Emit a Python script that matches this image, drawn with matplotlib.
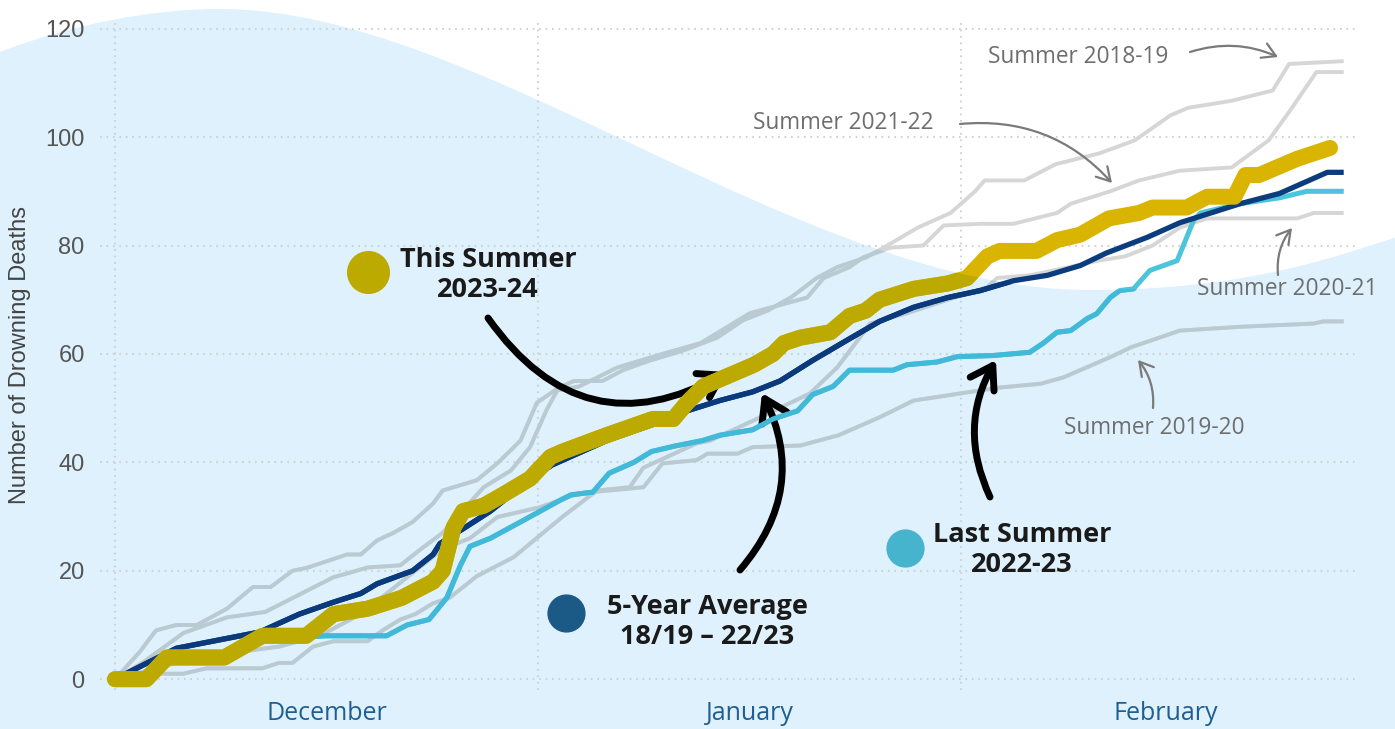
import numpy as np
import matplotlib
matplotlib.use("Agg")
import matplotlib.pyplot as plt
import matplotlib.colors as mcolors
from matplotlib.path import Path
from matplotlib.patches import PathPatch

# days since 1 December, values = cumulative drowning deaths
days_this = [0, 2.3, 3.8, 8, 10.8, 14, 16, 18.5, 21, 23.3, 24, 24.8, 25.5, 27, 28.4, 30.4, 31.9, 32.8,
             36, 39.4, 40.9, 41.9, 43.1, 46.8, 48.2, 49, 50.2, 52.4, 53.8, 55, 56, 58.5, 61, 62.4, 63.9,
             64.8, 67.5, 69, 70.7, 72.8, 75, 76, 78.5, 80, 82, 82.8, 83.8, 86.6, 87.8, 89]
this_summer = [0, 0, 4, 4, 8, 8, 12, 13, 15, 18, 20, 28, 31, 32, 34, 37, 41, 42,
               45, 48, 48, 51, 54, 58, 60, 62, 63, 64, 67, 68, 70, 72, 73, 74, 78,
               79, 79, 81, 82, 85, 86, 87, 87, 89, 89, 93, 93, 96, 97, 98]

days_avg = [0, 4.5, 10.6, 13.5, 16, 18, 19.2, 21.8, 23.3, 23.8, 27.5, 30, 32, 36, 39.4, 41.9, 44.3, 46.7,
            48.7, 51.1, 53.6, 56, 58.5, 61, 63.4, 65.8, 68.3, 70.7, 72.6, 75.6, 78, 82.4, 85.3, 88.8, 90]
five_year_avg = [0, 5.7, 8.7, 12, 14.2, 15.8, 17.6, 20, 23, 25, 31, 36, 39.5, 44, 47, 49.5, 51.4, 53,
                 55, 58.8, 62.5, 66, 68.6, 70.4, 71.7, 73.5, 74.5, 76.3, 78.6, 81.5, 84.2, 87.7, 89.6, 93.5, 93.5]

days_last = [0, 2.5, 4, 8, 11, 15.5, 19.9, 21.4, 23, 24.3, 25.3, 26, 27.5, 29.7, 32.6, 33.4, 35, 36.2, 38,
             39.3, 41, 43, 44.3, 46.7, 48.2, 50, 51.1, 52.6, 53.8, 57, 58, 60.2, 61.7, 64.3, 67, 68, 69,
             70, 71.2, 71.9, 72.9, 73.6, 74.6, 75.8, 77.8, 79, 79.5, 82.4, 85.3, 87.3, 90]
last_summer = [0, 1, 4, 4, 7.5, 8, 8, 10, 11, 15, 21, 24.5, 26, 29, 33, 34, 34.5, 38, 40,
               42, 43, 44, 45, 46, 48, 49.5, 52.5, 54, 57, 57, 58, 58.5, 59.5, 59.7, 60.3, 62, 64,
               64.3, 66.5, 67.4, 70.4, 71.7, 72, 75.4, 77.2, 84.6, 86, 87.7, 88.8, 90, 90]

days_1819 = [0, 1.8, 3, 4.5, 6, 8.2, 10.1, 11.4, 13, 14, 17, 18, 19.2, 20.4, 21.8, 23.3, 24, 26.5, 28,
             29.7, 30.9, 32.4, 33.6, 35.7, 37.2, 39.2, 41.6, 44.1, 46, 47.8, 49.5, 51.4, 52.9, 55, 56.3,
             58.8, 61.2, 63, 63.7, 66.6, 68.9, 72.1, 74.7, 77.3, 78.6, 81.8, 84.8, 86, 90]
summer_1819 = [0, 5, 9, 10, 10, 13, 17, 17, 20, 20.5, 23, 23, 25.6, 27, 29, 32.4, 34.8, 36.7, 39.8,
               44, 51, 53.6, 55, 55, 57, 58.8, 60.6, 63, 66.2, 68, 70.4, 74, 76, 77.8, 79.6,
               83.3, 86, 90, 92, 92, 95, 97, 99.4, 104, 105.4, 106.7, 108.6, 113.5, 114]

days_2122 = [0, 2, 5, 8.2, 11, 16, 17, 18.5, 20.9, 22.3, 24, 27, 29, 30.4, 31.6, 32.4, 34, 36.8, 40.1,
             42.9, 46.5, 50.7, 51.9, 53.8, 54.8, 56.8, 59.2, 60.7, 63.4, 65.8, 69, 70, 72.9, 75, 78,
             81.8, 84.5, 86.1, 88, 90]
summer_2122 = [0, 3, 8.5, 11.4, 12.4, 18.8, 19.5, 20.6, 21, 23.8, 27, 35.4, 38.5, 42.8, 49.6, 53.3, 54, 57.5, 60,
               62, 67.5, 70.4, 74, 76, 77.8, 79.6, 80, 83.7, 84, 84, 86, 87.7, 90, 92, 93.8,
               94.4, 99.4, 105, 112, 112]

days_2021 = [0, 2.6, 5, 6.7, 10.8, 12, 13, 14.5, 16, 18.5, 19.6, 20.9, 22, 23.3, 24.5, 26.5, 29.2, 32.8,
             35.3, 37.7, 38.7, 42.6, 43.6, 47, 50.9, 52.9, 54.4, 55.3, 58, 61, 63.9, 64.6, 67, 69.5, 72,
             74, 76, 78, 80, 86.6, 87.8, 90]
summer_2021 = [0, 1, 1, 2, 2, 3, 3, 6, 7, 7, 9, 11, 12, 14, 15, 19, 22.5, 30,
               34.8, 35.4, 39, 43.5, 44, 48, 52.7, 57.5, 62.5, 65.6, 67.5, 70, 72.3, 74, 74.5, 75.8, 77.2,
               78, 80, 83.3, 85, 85, 86, 86]

days_1920 = [0, 3, 6, 9, 12, 15, 18, 21, 24, 26, 28, 31.1, 34, 38.7, 40.1, 42.6, 43.4, 45.6, 46.7, 50.2,
             53, 56, 58.5, 61.9, 64.8, 67.8, 69.5, 72.9, 74.4, 78, 82.4, 87.8, 88.5, 90]
summer_1920 = [0, 2, 4, 5, 6, 8, 12, 18, 24, 26, 29.9, 31.7, 34.3, 35.4, 39.8, 40.4, 41.6, 41.6, 42.8, 43.1,
               45, 48.3, 51.4, 52.7, 53.8, 54.5, 55.7, 59.4, 61.2, 64.3, 65, 65.6, 66, 66]

month_names = ["December", "January", "February"]
month_starts = [0, 31, 62]
month_mids = [15.5, 46.5, 77]
y_ticks = [0, 20, 40, 60, 80, 100, 120]

W, H = 1395, 729
BLUE = "#def1fc"
GOLD = "#d9b400"
NAVY = "#0b3c7d"
CYAN = "#4cc4dc"
GREY = "#d6d6d6"


def P(x, y):
    # reference pixel -> figure fraction
    return (x / W, 1 - y / H)


def multiply(c):
    a = np.array(mcolors.to_rgb(c))
    b = np.array(mcolors.to_rgb(BLUE))
    return tuple(a * b)


fig = plt.figure(figsize=(W / 100, H / 100), dpi=100)

# light blue wave behind the chart
wave_px = [(-5, 55), (0, 52), (70, 25), (150, 9), (220, 9), (480, 9), (800, 290), (1090, 290),
           (1250, 290), (1340, 255), (1400, 236), (1400, 735), (-5, 735), (-5, 55)]
codes = [Path.MOVETO, Path.LINETO] + [Path.CURVE4] * 9 + [Path.LINETO, Path.LINETO, Path.CLOSEPOLY]
wave_path = Path([P(x, y) for x, y in wave_px], codes)
fig.add_artist(PathPatch(wave_path, transform=fig.transFigure, facecolor=BLUE,
                         edgecolor="none", zorder=0))
wave_clip = PathPatch(wave_path, transform=fig.transFigure, facecolor="none", edgecolor="none")

ax = fig.add_axes([100 / W, 1 - 690 / H, 1256 / W, 670 / H])
ax.set_zorder(1)
ax.patch.set_visible(False)
ax.set_xlim(-1.1, 90.9)
ax.set_ylim(-2.0, 121.6)


def draw(x, y, color, lw, z, cap="butt"):
    # the blue wave tints whatever lies under it, so draw a tinted copy clipped to the wave
    ax.plot(x, y, color=color, lw=lw, zorder=z, solid_capstyle=cap)
    ln, = ax.plot(x, y, color=multiply(color), lw=lw, zorder=z + 0.1, solid_capstyle=cap)
    ln.set_clip_path(wave_clip)


for dx, dy in [(days_1819, summer_1819), (days_2122, summer_2122),
               (days_2021, summer_2021), (days_1920, summer_1920)]:
    draw(dx, dy, GREY, 2.8, 2)
draw(days_last, last_summer, CYAN, 3.6, 3)
draw(days_avg, five_year_avg, NAVY, 3.8, 4)
draw(days_this, this_summer, GOLD, 11.5, 5, cap="round")

# axes styling
for s in ax.spines.values():
    s.set_visible(False)
ax.set_yticks(y_ticks)
ax.set_yticklabels([str(v) for v in y_ticks], family=["Liberation Sans", "DejaVu Sans"],
                   fontsize=17, color="#555555")
ax.set_xticks(month_mids)
ax.set_xticklabels(month_names, family=["Open Sans", "DejaVu Sans"], fontsize=18, color="#1f5e92")
ax.set_xticks(month_starts, minor=True)
ax.tick_params(axis="both", which="both", length=0)
ax.tick_params(axis="y", pad=11)
ax.tick_params(axis="x", pad=8)
ax.grid(axis="y", which="major", color="#cdd2d6", lw=1.5, linestyle=(0, (0.8, 2.3)), zorder=1)
ax.grid(axis="x", which="minor", color="#cdd2d6", lw=1.5, linestyle=(0, (0.8, 2.3)), zorder=1)
ax.set_axisbelow(True)
ax.set_ylabel("Number of Drowning Deaths", family=["Liberation Sans", "DejaVu Sans"],
              fontsize=17, color="#444444")
ax.yaxis.set_label_coords(-0.055, 0.5)

# legend-like dots with bold labels
bold = dict(family=["Open Sans", "DejaVu Sans"], fontweight="bold", fontsize=19.5,
            color="#1a1a1a", ha="center", va="center", linespacing=1.2)
dots = [((368, 272), multiply(GOLD), 30, "This Summer\n2023-24", (488, 275)),
        ((566, 613), "#1b5a86", 26.5, "5-Year Average\n18/19 \u2013 22/23", (707, 622)),
        ((905, 548), "#45b4cc", 26.5, "Last Summer\n2022-23", (1022, 550))]
for (px, py), col, ms, label, (tx, ty) in dots:
    fx, fy = P(px, py)
    ax.plot([fx], [fy], "o", color=col, ms=ms, transform=fig.transFigure, clip_on=False, zorder=6)
    fig.text(*P(tx, ty), label, **bold)

# black arrows pointing at the highlighted lines
black_arrows = [((488, 318), (727, 372), 0.45),
                ((740, 570), (762, 393), 0.33),
                ((990, 497), (996, 360), -0.26)]
for tail, head, rad in black_arrows:
    ax.annotate("", xy=P(*head), xycoords="figure fraction", xytext=P(*tail),
                textcoords="figure fraction", annotation_clip=False,
                arrowprops=dict(arrowstyle="->,head_length=0.7,head_width=0.45", lw=5,
                                color="black", connectionstyle=f"arc3,rad={rad}",
                                shrinkA=0, shrinkB=0, mutation_scale=22))

# grey labels for earlier summers
grey_labels = [("Summer 2018-19", (1078, 57), (1190, 52), (1278, 57), -0.19),
               ("Summer 2021-22", (843, 123), (960, 124), (1112, 183), -0.25),
               ("Summer 2020-21", (1287, 289), (1278, 275), (1292, 228), -0.2),
               ("Summer 2019-20", (1154, 428), (1153, 408), (1138, 360), 0.2)]
for label, (tx, ty), tail, head, rad in grey_labels:
    fig.text(*P(tx, ty), label, family=["Open Sans", "DejaVu Sans"], fontsize=16.3,
             color="#6e6e6e", ha="center", va="center")
    ax.annotate("", xy=P(*head), xycoords="figure fraction", xytext=P(*tail),
                textcoords="figure fraction", annotation_clip=False,
                arrowprops=dict(arrowstyle="->,head_length=0.6,head_width=0.35", lw=1.6,
                                color="#7a7a7a", connectionstyle=f"arc3,rad={rad}",
                                shrinkA=0, shrinkB=0, mutation_scale=16))

fig.savefig("out.png", dpi=100)
